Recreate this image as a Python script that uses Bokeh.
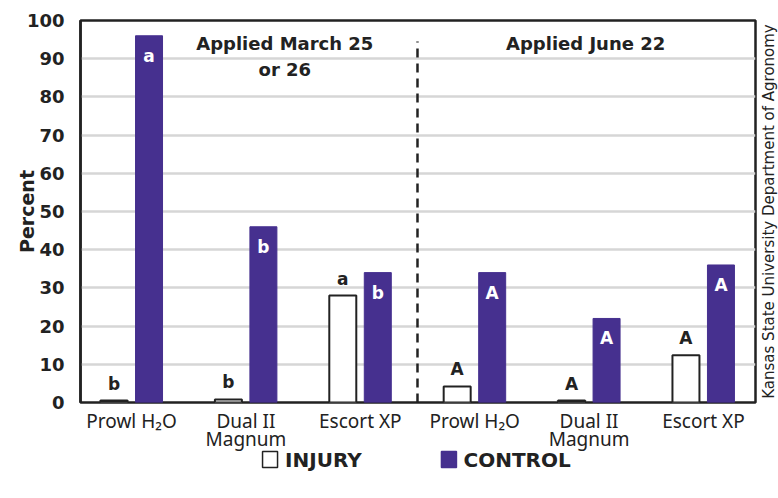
import math
from bokeh.plotting import figure
from bokeh.layouts import column, row
from bokeh.models import ColumnDataSource, FixedTicker, Range1d
from bokeh.core.properties import value
from bokeh.embed import file_html
from bokeh.resources import INLINE

products = ["Prowl H\u2082O", "Dual II\nMagnum", "Escort XP", "Prowl H\u2082O", "Dual II\nMagnum", "Escort XP"]
injury = [0.5, 0.8, 28, 4.2, 0.5, 12.4]
control = [96, 46, 34, 34, 22, 36]
injury_letters = ["b", "b", "a", "A", "A", "A"]
control_letters = ["a", "b", "b", "A", "A", "A"]
y_ticks = [0, 10, 20, 30, 40, 50, 60, 70, 80, 90, 100]
headers = ["Applied March 25\nor 26", "Applied June 22"]
series_names = ["INJURY", "CONTROL"]
source_note = "Kansas State University Department of Agronomy"

PURPLE = "#46308f"
INK = "#222222"
BOLD = "DejaVu Sans"
REG = "Noto Sans"

xs = list(range(len(products)))
off = 0.153
bw = 0.236

src = ColumnDataSource(dict(
    x=xs, xi=[x - off for x in xs], xc=[x + off for x in xs],
    inj=injury, ctl=control, li=injury_letters, lc=control_letters, name=products))

x_range = Range1d(-0.446, 5.455)
y_range = Range1d(0, 100)

p = figure(width=758, height=410, output_backend="svg", toolbar_location=None,
           x_range=x_range, y_range=y_range,
           min_border_left=80, min_border_right=3, min_border_top=20, min_border_bottom=8)
p.background_fill_color = "white"
p.border_fill_color = "white"
p.outline_line_color = INK
p.outline_line_width = 2.5

p.vbar(x="xi", top="inj", width=bw, source=src, fill_color="white",
       line_color=INK, line_width=2)
p.vbar(x="xc", top="ctl", width=bw, source=src, fill_color=PURPLE,
       line_color=PURPLE, line_width=1)

p.text(x="xi", y="inj", text="li", source=src, text_align="center", text_baseline="bottom",
       y_offset=-7, text_font=value(BOLD), text_font_style="bold", text_font_size="17px",
       text_color=INK)
p.text(x="xc", y="ctl", text="lc", source=src, text_align="center", text_baseline="top",
       y_offset=10, text_font=value(BOLD), text_font_style="bold", text_font_size="17px",
       text_color="white")

p.text(x=[1.34, 3.97], y=[96.8, 96.8], text=headers, text_align="center", text_baseline="top",
       text_font=value(BOLD), text_font_style="bold", text_font_size="18px",
       text_color=INK, text_line_height=1.25)

p.segment(x0=[2.5], y0=[0], x1=[2.5], y1=[94.5], line_color=INK, line_width=2.5,
          line_dash="9 6")

p.xaxis.visible = False
p.yaxis.ticker = FixedTicker(ticks=y_ticks)
p.yaxis.major_label_text_font = BOLD
p.yaxis.major_label_text_font_style = "bold"
p.yaxis.major_label_text_font_size = "18px"
p.yaxis.major_label_text_color = INK
p.yaxis.major_tick_line_color = None
p.yaxis.minor_tick_line_color = None
p.yaxis.axis_line_color = INK
p.yaxis.axis_line_width = 2.5
p.yaxis.major_label_standoff = 10
p.yaxis.axis_label = "Percent"
p.yaxis.axis_label_text_font = BOLD
p.yaxis.axis_label_text_font_style = "bold"
p.yaxis.axis_label_text_font_size = "19px"
p.yaxis.axis_label_text_color = INK
p.yaxis.axis_label_standoff = -14

p.xgrid.grid_line_color = None
p.ygrid.grid_line_color = "#d6d6d6"
p.ygrid.grid_line_width = 2.5


def strip(w, h, xr, yr, left=0, right=0, top=0, bottom=0):
    f = figure(width=w, height=h, output_backend="svg", toolbar_location=None,
               x_range=xr, y_range=yr, x_axis_type=None, y_axis_type=None,
               min_border_left=left, min_border_right=right,
               min_border_top=top, min_border_bottom=bottom)
    f.grid.visible = False
    f.outline_line_color = None
    f.background_fill_color = "white"
    f.border_fill_color = "white"
    return f


# vertical source note, sharing the bar chart's vertical scale
note = strip(20, 410, Range1d(0, 20), y_range, top=20, bottom=8)
note.text(x=[10], y=[50], text=[source_note], angle=math.pi / 2, text_align="center",
          text_baseline="middle", text_font=value(BOLD), text_font_size="15px",
          text_color=INK)

# category labels and legend below, sharing the bar chart's x range
bot = strip(778, 88, x_range, Range1d(0, 88), left=80, right=23)
bot.text(x="x", y=88, text="name", source=src, text_align="center", text_baseline="top",
         y_offset=-3, text_font=value(REG), text_font_size="19px", text_color=INK,
         text_line_height=0.71)

lg_src = ColumnDataSource(dict(x=[1.211, 2.775], tx=[1.342, 2.902], y=[39, 39],
                               name=series_names, fill=["white", PURPLE],
                               line=[INK, PURPLE]))
bot.rect(x="x", y="y", width=15, height=16, width_units="screen", height_units="screen",
         source=lg_src, fill_color="fill", line_color="line", line_width=1.5)
bot.text(x="tx", y="y", text="name", source=lg_src, text_align="left", text_baseline="middle",
         text_font=value(BOLD), text_font_style="bold", text_font_size="20px", text_color=INK)

layout = column(row(p, note, spacing=0), bot, spacing=0)
open("out.html", "w").write(file_html(layout, INLINE))
